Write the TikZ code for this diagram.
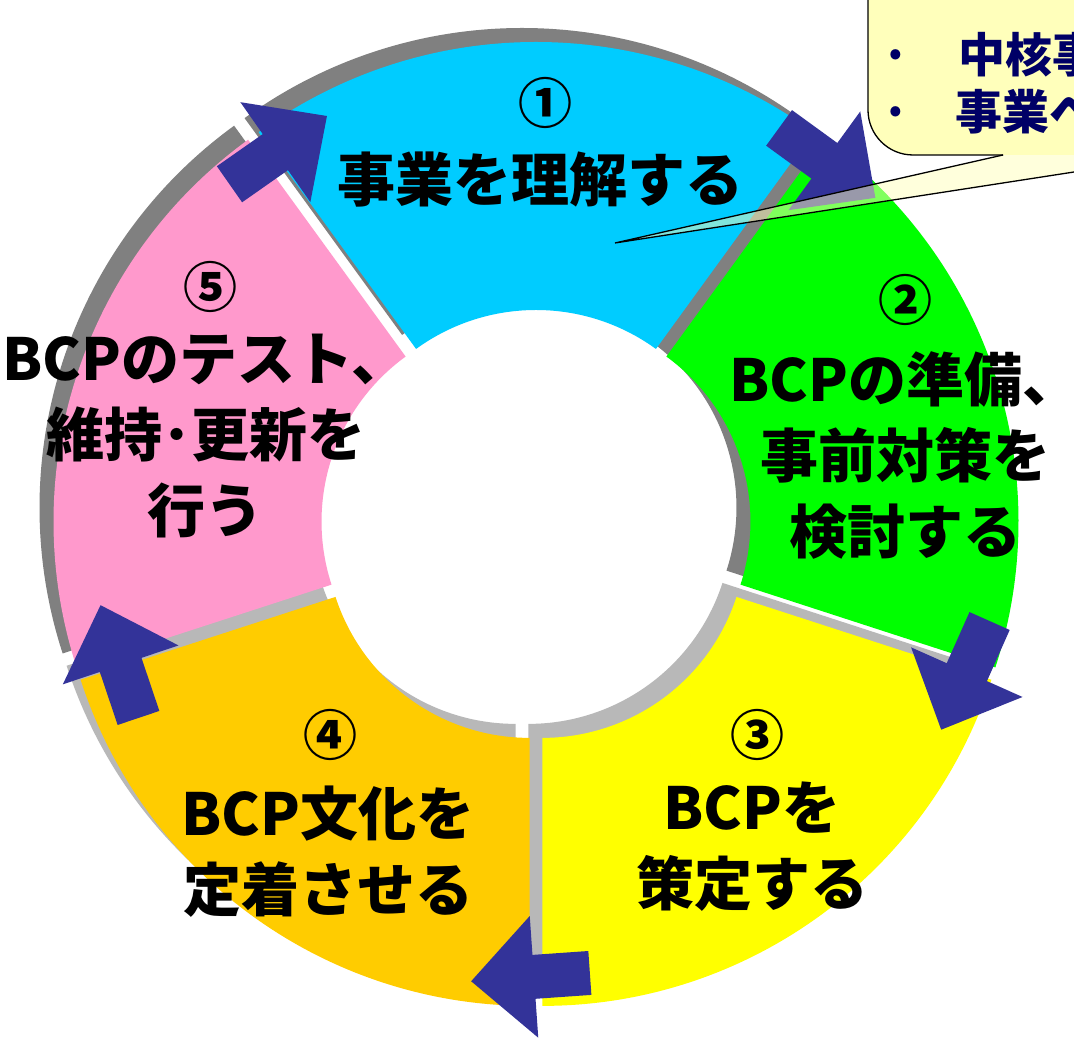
\documentclass[tikz,border=0pt]{standalone}
\usepackage{fontspec}
\setmainfont{Noto Sans CJK JP}
\definecolor{segblue}{HTML}{00CCFF}
\definecolor{seggreen}{HTML}{00FF00}
\definecolor{segyellow}{HTML}{FFFF00}
\definecolor{segorange}{HTML}{FFCC00}
\definecolor{segpink}{HTML}{FF99CC}
\definecolor{arrowblue}{HTML}{333399}
\definecolor{shadowdark}{HTML}{808080}
\definecolor{shadowlight}{HTML}{B8B8B8}
\definecolor{callfill}{HTML}{FFFFBB}
\definecolor{navy}{HTML}{000066}
\tikzset{
  arrowshape/.style={fill=arrowblue},
  seglabel/.style={font=\bfseries\fontsize{58pt}{76pt}\selectfont, align=center, inner sep=0pt, text=black},
  segnum/.style={font=\bfseries\fontsize{54pt}{60pt}\selectfont, inner sep=0pt, text=black},
  calltext/.style={font=\bfseries\fontsize{47pt}{50pt}\selectfont, text=navy, inner sep=0pt, anchor=west},
  callline/.style={draw=black, line width=1.3pt},
}
% annular sector: start angle, end angle, fill style, extra shift
\newcommand\ringsec[4]{%
  \begin{scope}[shift={(536pt,516pt)},shift={({(#1+#2)/2}:11pt)},shift={(#4)}]
    \fill[#3] (#1:204pt) -- (#1:472pt) arc[start angle=#1,end angle=#2,radius=472pt]
      -- (#2:204pt) arc[start angle=#2,end angle=#1,radius=204pt] -- cycle;
  \end{scope}}
% block arrow: centre, direction
\newcommand\blockarrow[2]{%
  \fill[arrowshape, shift={(#1)}, rotate=#2] (-58pt,-22pt) -- (-2pt,-22pt) -- (-2pt,-61pt)
    -- (61pt,0pt) -- (-2pt,61pt) -- (-2pt,22pt) -- (-58pt,22pt) -- cycle;}
\begin{document}
\begin{tikzpicture}[x=1pt,y=1pt]
\useasboundingbox (0,0) rectangle (1074,1041);
\clip (0,0) rectangle (1074,1041);
\fill[white] (0,0) rectangle (1074,1041);
% shadows
\ringsec{54}{126}{shadowdark}{-14pt,14pt}
\ringsec{126}{198}{shadowdark}{-14pt,14pt}
\ringsec{198}{270}{shadowlight}{-14pt,14pt}
\ringsec{270}{342}{shadowlight}{-14pt,14pt}
\ringsec{342}{414}{shadowdark}{-14pt,14pt}
% sectors
\ringsec{54}{126}{segblue}{0pt,0pt}
\ringsec{126}{198}{segpink}{0pt,0pt}
\ringsec{198}{270}{segorange}{0pt,0pt}
\ringsec{270}{342}{segyellow}{0pt,0pt}
\ringsec{342}{414}{seggreen}{0pt,0pt}
% arrows
\blockarrow{277,890}{35}
\blockarrow{826,879}{-36}
\blockarrow{966,367}{-114}
\blockarrow{532,64}{184}
\blockarrow{120,378}{108.6}
% labels
\node[segnum] (n1) at (545,938) {①};
\node[seglabel] (t1) at (540,861) {事業を理解する};
\node[segnum] (n2) at (905,741) {②};
\node[seglabel] (t2) at (905,586) {BCPの準備、\\事前対策を\\検討する};
\node[segnum] (n3) at (757,306) {③};
\node[seglabel] (t3) at (752,194) {BCPを\\策定する};
\node[segnum] (n4) at (330,306) {④};
\node[seglabel] (t4) at (328,189) {BCP文化を\\定着させる};
\node[segnum] (n5) at (210,754) {⑤};
\node[seglabel] (t5) at (206,605) {BCPのテスト、\\維持･更新を\\行う};
% callout
\fill[callfill, fill opacity=0.5] (1003,886) -- (615,798) -- (1140,879.2) -- (1140,886) -- cycle;
\fill[callfill, rounded corners=45pt] (868,886) rectangle (1160,1120);
\draw[callline, rounded corners=45pt] (868,1120) -- (868,886) -- (1003,886);
\draw[callline, line join=miter] (1003,886) -- (615,798) -- (1140,879.2);
\node[calltext] (c1) at (881,986) {\makebox[77pt][l]{·}中核事};
\node[calltext] (c2) at (881,929) {\makebox[74pt][l]{·}事業へ};
\end{tikzpicture}
\end{document}
